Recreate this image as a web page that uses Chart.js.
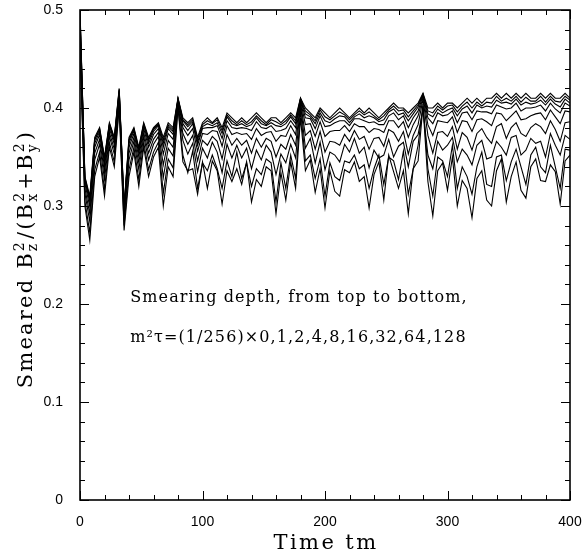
<!DOCTYPE html>
<html>
<head>
<meta charset="utf-8">
<script src="https://cdn.jsdelivr.net/npm/chart.js@4.4.1/dist/chart.umd.min.js"></script>
<style>
  html, body { margin: 0; padding: 0; background: #fff; }
  #wrap { width: 584px; height: 557px; }
</style>
</head>
<body>
<div id="wrap"><canvas id="chart" width="584" height="557"></canvas></div>
<script>
// sample times (tm)
const times = [
  0, 4, 8, 12, 16, 20, 24, 28, 32, 36, 40, 44, 48, 52, 56, 60, 64, 68, 72, 76,
  80, 84, 88, 92, 96, 100, 104, 108, 112, 116, 120, 124, 128, 132, 136, 140, 144, 148, 152, 156,
  160, 164, 168, 172, 176, 180, 184, 188, 192, 196, 200, 204, 208, 212, 216, 220, 224, 228, 232, 236,
  240, 244, 248, 252, 256, 260, 264, 268, 272, 276, 280, 284, 288, 292, 296, 300, 304, 308, 312, 316,
  320, 324, 328, 332, 336, 340, 344, 348, 352, 356, 360, 364, 368, 372, 376, 380, 384, 388, 392, 396,
  400
];

// smearing depth m^2 tau = (1/256) x depth
const depths = [0, 1, 2, 4, 8, 16, 32, 64, 128];

const smear0 = [
  .50,.33,.31,.37,.38,.35,.385,.37,.42,.30,
  .37,.38,.36,.385,.37,.38,.385,.37,.385,.38,
  .41,.39,.385,.39,.37,.385,.39,.385,.39,.38,
  .395,.39,.385,.39,.385,.39,.395,.39,.385,.39,
  .39,.385,.39,.395,.39,.41,.40,.395,.39,.40,
  .395,.39,.395,.40,.395,.39,.395,.40,.395,.40,
  .395,.39,.395,.40,.405,.40,.40,.395,.40,.405,
  .415,.40,.40,.405,.40,.405,.405,.40,.405,.41,
  .405,.41,.405,.41,.41,.415,.41,.415,.41,.415,
  .41,.415,.41,.41,.415,.41,.415,.41,.41,.415,
  .41
];
const smear1 = [
  .498,.329,.308,.368,.379,.348,.384,.369,.419,.299,
  .368,.379,.358,.384,.368,.379,.384,.367,.383,.378,
  .410,.388,.383,.388,.368,.383,.387,.384,.388,.377,
  .393,.387,.383,.387,.383,.386,.392,.387,.383,.388,
  .386,.383,.387,.393,.387,.410,.397,.393,.387,.398,
  .391,.388,.392,.396,.393,.388,.393,.397,.393,.396,
  .392,.388,.392,.398,.402,.397,.398,.391,.397,.403,
  .414,.397,.395,.402,.398,.402,.403,.396,.402,.406,
  .400,.406,.402,.406,.405,.412,.407,.410,.407,.412,
  .406,.411,.407,.407,.412,.406,.412,.407,.406,.412,
  .408
];
const smear2 = [
  .497,.328,.306,.367,.378,.347,.383,.368,.418,.298,
  .367,.378,.357,.383,.367,.378,.383,.364,.381,.376,
  .409,.387,.381,.386,.365,.381,.384,.382,.385,.374,
  .391,.384,.382,.384,.381,.383,.390,.384,.382,.385,
  .382,.381,.384,.391,.384,.409,.394,.391,.384,.395,
  .387,.385,.389,.392,.391,.385,.391,.394,.390,.392,
  .390,.386,.388,.396,.399,.393,.395,.387,.394,.401,
  .414,.394,.391,.399,.395,.398,.400,.392,.399,.402,
  .395,.403,.400,.402,.401,.408,.405,.406,.404,.409,
  .403,.406,.404,.405,.408,.403,.409,.404,.401,.409,
  .405
];
const smear4 = [
  .494,.326,.304,.364,.376,.344,.382,.366,.417,.297,
  .364,.377,.354,.382,.364,.376,.382,.360,.379,.373,
  .409,.384,.377,.384,.362,.379,.380,.380,.382,.369,
  .387,.380,.379,.380,.379,.377,.386,.380,.379,.382,
  .376,.377,.379,.387,.380,.409,.390,.389,.379,.392,
  .381,.382,.385,.387,.387,.382,.389,.389,.387,.385,
  .386,.383,.383,.392,.395,.388,.392,.380,.390,.397,
  .413,.390,.384,.395,.392,.393,.397,.385,.395,.396,
  .388,.397,.396,.396,.394,.403,.401,.399,.400,.405,
  .397,.400,.400,.401,.403,.397,.405,.399,.395,.405,
  .402
];
const smear8 = [
  .490,.323,.299,.360,.373,.340,.379,.363,.415,.294,
  .360,.374,.350,.379,.360,.373,.379,.353,.374,.368,
  .408,.380,.372,.379,.356,.374,.373,.377,.376,.361,
  .382,.373,.375,.373,.374,.368,.379,.372,.375,.376,
  .366,.372,.371,.382,.373,.408,.383,.384,.371,.386,
  .371,.376,.377,.377,.382,.376,.384,.381,.381,.375,
  .379,.378,.375,.387,.387,.380,.386,.370,.383,.392,
  .411,.383,.372,.387,.386,.385,.391,.375,.387,.386,
  .376,.388,.389,.386,.382,.395,.394,.387,.392,.397,
  .388,.389,.392,.394,.395,.388,.398,.391,.384,.397,
  .396
];
const smear16 = [
  .484,.318,.292,.354,.368,.334,.375,.358,.412,.290,
  .354,.370,.344,.375,.354,.368,.375,.342,.367,.360,
  .406,.374,.363,.372,.346,.367,.362,.371,.366,.348,
  .373,.362,.369,.362,.367,.354,.369,.360,.369,.366,
  .350,.363,.358,.373,.362,.406,.372,.377,.358,.376,
  .355,.366,.365,.362,.373,.366,.377,.368,.371,.358,
  .369,.370,.361,.378,.375,.366,.376,.353,.372,.383,
  .409,.372,.354,.375,.376,.371,.381,.358,.375,.370,
  .357,.374,.379,.370,.364,.381,.384,.369,.380,.385,
  .374,.371,.380,.384,.381,.374,.387,.378,.366,.385,
  .386
];
const smear32 = [
  .477,.313,.284,.347,.363,.327,.371,.353,.408,.286,
  .347,.366,.337,.371,.347,.363,.371,.329,.359,.351,
  .404,.367,.353,.364,.335,.359,.349,.365,.355,.334,
  .363,.349,.362,.349,.359,.338,.357,.347,.362,.355,
  .332,.353,.344,.363,.349,.404,.359,.369,.344,.365,
  .337,.355,.352,.345,.363,.355,.369,.354,.360,.339,
  .357,.349,.352,.368,.350,.361,.365,.340,.366,.373,
  .398,.352,.338,.366,.357,.362,.370,.345,.358,.352,
  .342,.362,.367,.348,.350,.366,.360,.352,.370,.372,
  .352,.357,.369,.364,.366,.350,.374,.362,.352,.372,
  .368
];
const smear64 = [
  .467,.305,.273,.337,.355,.317,.365,.345,.404,.280,
  .337,.360,.327,.365,.337,.355,.365,.313,.348,.339,
  .402,.352,.334,.356,.318,.344,.336,.352,.338,.318,
  .346,.330,.355,.328,.344,.320,.338,.332,.348,.344,
  .304,.344,.318,.352,.328,.398,.346,.352,.328,.348,
  .310,.344,.330,.326,.346,.344,.352,.338,.342,.318,
  .338,.352,.322,.350,.346,.327,.356,.312,.338,.362,
  .404,.338,.310,.350,.346,.330,.362,.318,.340,.330,
  .312,.340,.355,.322,.320,.350,.352,.326,.345,.358,
  .340,.322,.352,.360,.340,.334,.362,.340,.318,.358,
  .357
];
const smear128 = [
  .46,.30,.265,.33,.35,.31,.36,.34,.40,.275,
  .33,.355,.32,.36,.33,.35,.36,.30,.34,.33,
  .40,.345,.336,.338,.312,.345,.318,.346,.336,.302,
  .336,.325,.338,.322,.345,.304,.327,.32,.34,.336,
  .292,.334,.306,.345,.318,.39,.336,.347,.314,.338,
  .298,.336,.315,.31,.337,.334,.345,.325,.33,.298,
  .332,.345,.306,.352,.335,.318,.336,.292,.338,.346,
  .402,.325,.290,.336,.344,.316,.350,.300,.326,.318,
  .288,.328,.336,.306,.300,.336,.348,.304,.330,.345,
  .316,.308,.340,.348,.326,.325,.342,.335,.302,.346,
  .352
];

const allSeries = [smear0, smear1, smear2, smear4, smear8, smear16, smear32, smear64, smear128];

const xTicks = { min: 0, max: 400, major: 100, minor: 20 };
const yTicks = { min: 0, max: 0.5, major: 0.1, minor: 0.02 };

const noteLines = [
  'Smearing depth, from top to bottom,',
  'm\u00b2\u03c4=(1/256)\u00d7' + depths.join(',')
];

const SERIF = '"DejaVu Serif", "Liberation Serif", serif';

// frame with inward ticks on all sides, plus the axis titles and the note
const framePlugin = {
  id: 'framePlugin',
  afterDraw(chart) {
    const { ctx, chartArea: a, scales: { x, y } } = chart;
    ctx.save();
    ctx.strokeStyle = '#000';
    ctx.lineWidth = 1.6;
    ctx.strokeRect(a.left, a.top, a.right - a.left, a.bottom - a.top);

    ctx.lineWidth = 1;
    ctx.beginPath();
    const nx = Math.round((xTicks.max - xTicks.min) / xTicks.minor);
    for (let i = 0; i <= nx; i++) {
      const v = xTicks.min + i * xTicks.minor;
      const px = Math.round(x.getPixelForValue(v)) + 0.5;
      const len = i % 5 === 0 ? 9 : 5;
      ctx.moveTo(px, a.bottom); ctx.lineTo(px, a.bottom - len);
      ctx.moveTo(px, a.top); ctx.lineTo(px, a.top + len);
    }
    const ny = Math.round((yTicks.max - yTicks.min) / yTicks.minor);
    for (let i = 0; i <= ny; i++) {
      const v = yTicks.min + i * yTicks.minor;
      const py = Math.round(y.getPixelForValue(v)) + 0.5;
      const len = i % 5 === 0 ? 9 : 5;
      ctx.moveTo(a.left, py); ctx.lineTo(a.left + len, py);
      ctx.moveTo(a.right, py); ctx.lineTo(a.right - len, py);
    }
    ctx.stroke();

    ctx.fillStyle = '#000';

    // x title
    ctx.font = '21px ' + SERIF;
    ctx.letterSpacing = '2.4px';
    ctx.textAlign = 'center';
    ctx.textBaseline = 'middle';
    ctx.fillText('Time tm', (a.left + a.right) / 2 + 1, a.bottom + 44);

    // note inside the plot
    ctx.font = '16px ' + SERIF;
    ctx.letterSpacing = '1.1px';
    ctx.textAlign = 'left';
    ctx.fillText(noteLines[0], x.getPixelForValue(41), y.getPixelForValue(0.206));
    ctx.fillText(noteLines[1], x.getPixelForValue(41), y.getPixelForValue(0.165));

    // y title, rotated, with sub/superscripts
    const parts = [
      { t: 'Smeared B' }, { sup: '2', sub: 'z' }, { t: '/(B' }, { sup: '2', sub: 'x' },
      { t: '+B' }, { sup: '2', sub: 'y' }, { t: ')' }
    ];
    const big = '21px ' + SERIF, small = '14px ' + SERIF;
    ctx.letterSpacing = '2.2px';
    let w = 0;
    parts.forEach(p => {
      if (p.t) { ctx.font = big; p.w = ctx.measureText(p.t).width; }
      else { ctx.font = small; p.w = Math.max(ctx.measureText(p.sup).width, ctx.measureText(p.sub).width) + 1; }
      w += p.w;
    });
    ctx.translate(32, 259);
    ctx.rotate(-Math.PI / 2);
    ctx.textAlign = 'left';
    ctx.textBaseline = 'alphabetic';
    let cx = -w / 2;
    parts.forEach(p => {
      if (p.t) { ctx.font = big; ctx.fillText(p.t, cx, 0); }
      else {
        ctx.font = small;
        ctx.fillText(p.sup, cx, -8);
        ctx.fillText(p.sub, cx, 5);
      }
      cx += p.w;
    });
    ctx.restore();
  }
};

const datasets = allSeries.map((s, k) => ({
  label: 'depth ' + depths[k],
  data: s.map((v, i) => ({ x: times[i], y: v })),
  borderColor: '#000',
  borderWidth: 1.1,
  pointRadius: 0,
  tension: 0,
  fill: false
}));

new Chart(document.getElementById('chart'), {
  type: 'line',
  data: { datasets },
  options: {
    responsive: false,
    animation: false,
    layout: { padding: { top: 10, right: 14, left: 0, bottom: 0 } },
    plugins: { legend: { display: false }, tooltip: { enabled: false } },
    scales: {
      x: {
        type: 'linear',
        min: xTicks.min,
        max: xTicks.max,
        grid: { display: false },
        border: { display: false },
        ticks: {
          stepSize: xTicks.major,
          padding: 6,
          color: '#000',
          font: { family: '"Liberation Sans", Arial, sans-serif', size: 14 },
          maxRotation: 0
        },
        afterFit(s) { s.height = 57; s.paddingLeft = 0; s.paddingRight = 0; }
      },
      y: {
        min: yTicks.min,
        max: yTicks.max,
        grid: { display: false },
        border: { display: false },
        ticks: {
          stepSize: yTicks.major,
          padding: 9,
          color: '#000',
          font: { family: '"Liberation Sans", Arial, sans-serif', size: 14 },
          callback: v => String(Math.round(v * 10) / 10)
        },
        afterFit(s) { s.width = 80; s.paddingTop = 0; s.paddingBottom = 0; }
      }
    }
  },
  plugins: [framePlugin]
});
</script>
</body>
</html>
